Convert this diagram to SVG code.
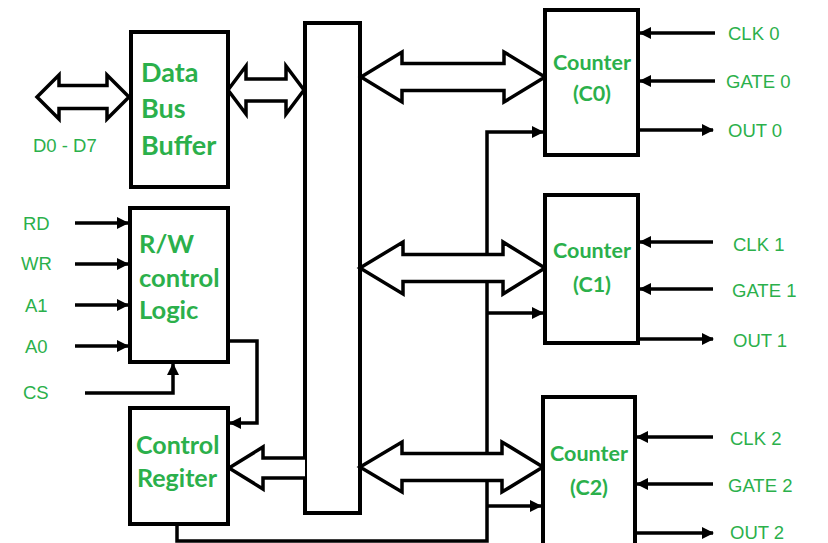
<svg xmlns="http://www.w3.org/2000/svg" width="828" height="543" viewBox="0 0 828 543">
  <style>
    .box { fill: #ffffff; stroke: #000000; stroke-width: 4; }
    .bus { fill: #ffffff; stroke: #000000; stroke-width: 3.5; stroke-linejoin: miter; }
    .wire { fill: none; stroke: #000000; stroke-width: 3.5; stroke-linejoin: miter; }
    .title { font-family: Lato, "Liberation Sans", sans-serif; font-weight: bold; fill: #2bb04b; }
    .sig { font-family: "Liberation Sans", Arial, sans-serif; font-size: 18.5px; fill: #2bb04b; }
  </style>
  <defs>
    <marker id="head" markerUnits="userSpaceOnUse" markerWidth="12" markerHeight="12" viewBox="0 0 12 12" refX="11" refY="6" orient="auto">
      <path d="M0,0 L12,6 L0,12 Z" fill="#000000"/>
    </marker>
  </defs>

  <!-- internal data bus -->
  <g id="internal-bus">
    <rect class="box" x="305" y="23" width="55" height="490"/>
  </g>

  <!-- control wires and connectors -->
  <g id="connectors">
    <!-- R/W logic inputs -->
    <line class="wire" x1="75" y1="223" x2="128" y2="223" marker-end="url(#head)"/>
    <line class="wire" x1="75" y1="264" x2="128" y2="264" marker-end="url(#head)"/>
    <line class="wire" x1="75" y1="305" x2="128" y2="305" marker-end="url(#head)"/>
    <line class="wire" x1="75" y1="346" x2="128" y2="346" marker-end="url(#head)"/>
    <polyline class="wire" points="85,393 173,393 173,364" marker-end="url(#head)"/>
    <!-- R/W logic to control register -->
    <polyline class="wire" points="228,341 257,341 257,423 230,423" marker-end="url(#head)"/>
    <!-- control register to counters -->
    <polyline class="wire" points="177,524 177,541 487,541 487,132 543,132" marker-end="url(#head)"/>
    <line class="wire" x1="487" y1="313" x2="543" y2="313" marker-end="url(#head)"/>
    <line class="wire" x1="487" y1="506" x2="541" y2="506" marker-end="url(#head)"/>

    <!-- counter 0 pins -->
    <line class="wire" x1="715" y1="33" x2="640" y2="33" marker-end="url(#head)"/>
    <line class="wire" x1="715" y1="81" x2="640" y2="81" marker-end="url(#head)"/>
    <line class="wire" x1="638" y1="130" x2="713" y2="130" marker-end="url(#head)"/>
    <!-- counter 1 pins -->
    <line class="wire" x1="713" y1="242" x2="640" y2="242" marker-end="url(#head)"/>
    <line class="wire" x1="713" y1="289" x2="640" y2="289" marker-end="url(#head)"/>
    <line class="wire" x1="638" y1="339" x2="713" y2="339" marker-end="url(#head)"/>
    <!-- counter 2 pins -->
    <line class="wire" x1="713" y1="437" x2="637" y2="437" marker-end="url(#head)"/>
    <line class="wire" x1="713" y1="484" x2="637" y2="484" marker-end="url(#head)"/>
    <line class="wire" x1="635" y1="533" x2="713" y2="533" marker-end="url(#head)"/>

    <!-- wide bus arrows -->
    <polygon class="bus" points="37,97 59,75 59,85.5 107,85.5 107,75 129,97 107,119 107,108.5 59,108.5 59,119"/>
    <polygon class="bus" points="228,90 246,66 246,79 286,79 286,66 304,90 286,114 286,101 246,101 246,114"/>
    <polygon class="bus" points="361,77 402,52 402,63.5 504,63.5 504,52 545,77 504,102 504,90.5 402,90.5 402,102"/>
    <polygon class="bus" points="360,268 403,242 403,254.5 503,254.5 503,242 545,268 503,294 503,281.5 403,281.5 403,294"/>
    <polygon class="bus" points="360,467 402,442 402,453.5 502,453.5 502,442 543,467 502,492 502,480.5 402,480.5 402,492"/>
    <path class="bus" d="M305,458 H263 V447 L229,468 L263,489 V478 H305"/>
  </g>

  <!-- data bus buffer -->
  <g id="data-bus-buffer">
    <rect class="box" x="131" y="32" width="97" height="155"/>
    <text class="title" font-size="27" x="141" y="82">Data</text>
    <text class="title" font-size="27" x="141" y="118">Bus</text>
    <text class="title" font-size="27" x="141" y="155">Buffer</text>
    <text class="sig" x="33" y="152">D0 - D7</text>
  </g>

  <!-- read/write control logic -->
  <g id="rw-control-logic">
    <rect class="box" x="130" y="208" width="98" height="154"/>
    <text class="title" font-size="25.5" x="139" y="253">R/W</text>
    <text class="title" font-size="25.5" x="139" y="287">control</text>
    <text class="title" font-size="25.5" x="139" y="319">Logic</text>
    <text class="sig" x="23" y="230">RD</text>
    <text class="sig" x="21" y="270">WR</text>
    <text class="sig" x="25" y="312">A1</text>
    <text class="sig" x="25" y="353">A0</text>
    <text class="sig" x="23" y="399">CS</text>
  </g>

  <!-- control register -->
  <g id="control-register">
    <rect class="box" x="130" y="408" width="98" height="116"/>
    <text class="title" font-size="25" x="136" y="454">Control</text>
    <text class="title" font-size="25" x="137" y="487">Regiter</text>
  </g>

  <!-- counter 0 -->
  <g id="counter-0">
    <rect class="box" x="545" y="10" width="93" height="145"/>
    <text class="title" font-size="21.5" x="592" y="70" text-anchor="middle">Counter</text>
    <text class="title" font-size="21.5" x="592" y="101" text-anchor="middle">(C0)</text>
    <text class="sig" x="728" y="40">CLK 0</text>
    <text class="sig" x="726" y="88">GATE 0</text>
    <text class="sig" x="728" y="137">OUT 0</text>
  </g>

  <!-- counter 1 -->
  <g id="counter-1">
    <rect class="box" x="545" y="195" width="93" height="148"/>
    <text class="title" font-size="21.5" x="592" y="258" text-anchor="middle">Counter</text>
    <text class="title" font-size="21.5" x="592" y="292" text-anchor="middle">(C1)</text>
    <text class="sig" x="733" y="251">CLK 1</text>
    <text class="sig" x="732" y="297">GATE 1</text>
    <text class="sig" x="733" y="347">OUT 1</text>
  </g>

  <!-- counter 2 -->
  <g id="counter-2">
    <rect class="box" x="543" y="397" width="92" height="152"/>
    <text class="title" font-size="21.5" x="589" y="461" text-anchor="middle">Counter</text>
    <text class="title" font-size="21.5" x="589" y="495" text-anchor="middle">(C2)</text>
    <text class="sig" x="730" y="445">CLK 2</text>
    <text class="sig" x="728" y="492">GATE 2</text>
    <text class="sig" x="730" y="539">OUT 2</text>
  </g>
</svg>
